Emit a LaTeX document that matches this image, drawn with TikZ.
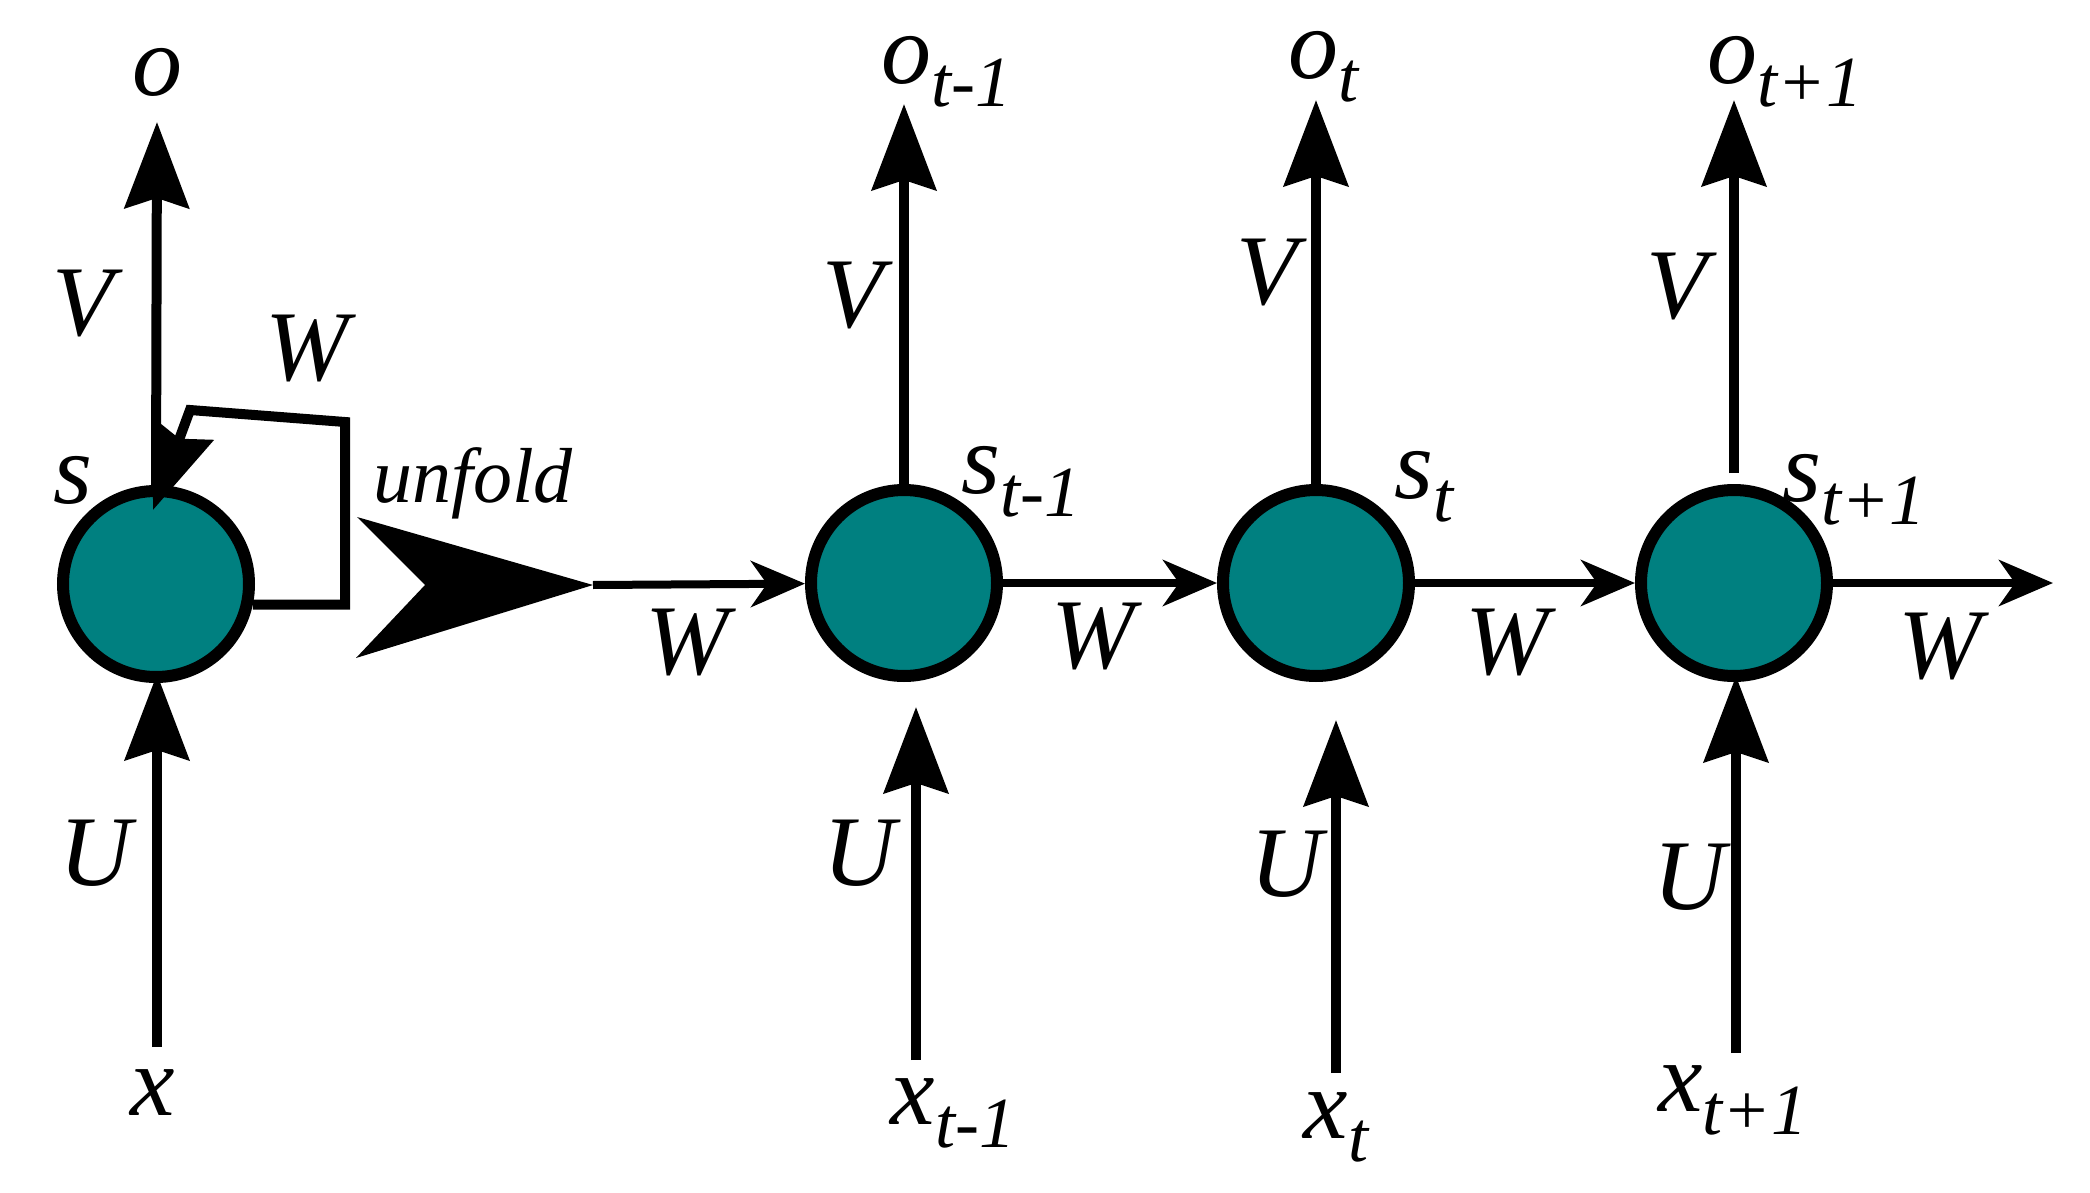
\documentclass[tikz,border=0pt]{standalone}
\usepackage{fontspec}
\setmainfont{Liberation Serif}
\usetikzlibrary{arrows.meta}
\definecolor{cellteal}{RGB}{0,128,128}
\newcommand\subt[1]{\raisebox{-0.23em}{\fontsize{36pt}{36pt}\selectfont #1}}
\begin{document}
\begin{tikzpicture}[x=0.5pt,y=-0.5pt,
  cell/.style={circle, draw=black, line width=6pt, fill=cellteal, minimum size=93pt, inner sep=0pt},
  lab/.style={font=\fontsize{50pt}{50pt}\selectfont\itshape, inner sep=0pt},
  smalllab/.style={font=\fontsize{39pt}{39pt}\selectfont\itshape, inner sep=0pt},
  bigtip/.style={-{Stealth[length=43pt,width=32pt,inset=5pt]}},
  upar/.style={line width=5pt, bigtip},
  harr/.style={line width=4pt, -{Stealth[length=27pt,width=23pt,inset=8pt]}},
  looparr/.style={line width=5pt, bigtip}]
\useasboundingbox (0,0) rectangle (2090,1193);

% cells
\node[cell] (c1) at (156,584) {};
\node[cell] (c2) at (904,583) {};
\node[cell] (c3) at (1316,583) {};
\node[cell] (c4) at (1734,583) {};

% coordinates
\coordinate (tp1) at (157,122);
\coordinate (tp2) at (904,104);
\coordinate (tp3) at (1316,100);
\coordinate (tp4) at (1734,100);
\coordinate (sb4) at (1734,473);
\coordinate (ub1) at (157,1047);
\coordinate (ut1) at (157,674);
\coordinate (ub2) at (916,1060);
\coordinate (ut2) at (916,707);
\coordinate (ub3) at (1336,1073);
\coordinate (ut3) at (1336,720);
\coordinate (ub4) at (1736,1053);
\coordinate (ut4) at (1736,676);
\coordinate (lp0) at (345,603);
\coordinate (lp1) at (345,422);
\coordinate (lp2) at (190,410);
\coordinate (lt) at (153,510);
\coordinate (ut) at (593,585);
\coordinate (wend) at (2053,583);

% up arrows (V)
\draw[upar] (c1.north) -- (tp1);
\draw[upar] (c2) -- (tp2);
\draw[upar] (c3) -- (tp3);
\draw[upar] (sb4) -- (tp4);

% input arrows (U)
\draw[upar] (ub1) -- (ut1);
\draw[upar] (ub2) -- (ut2);
\draw[upar] (ub3) -- (ut3);
\draw[upar] (ub4) -- (ut4);

% recurrent loop
\draw[looparr] (c1.-12) -- (c1.-12 -| lp0) -- (lp1) -- (lp2) -- (lt);

% unfold arrow
\fill (ut) -- (357,517) -- (425,585) -- (356,658) -- cycle;

% horizontal W arrows
\draw[harr] (ut) -- (c2);
\draw[harr] (c2) -- (c3);
\draw[harr] (c3) -- (c4);
\draw[harr] (c4) -- (wend);

% labels
\node[lab] (lo) at (157,72) {o};
\node[lab] (lv1) at (83,304) {V};
\node[lab] (lwl) at (307,349) {W};
\node[lab] (ls) at (73,480) {s};
\node[smalllab] (lunf) at (473,483) {unfold};
\node[lab] (lw1) at (687,643) {W};
\node[lab] (lu1) at (96,853) {U};
\node[lab] (lx) at (153,1093) {x};

\node[lab] (lo2) at (946,72) {o\subt{t-1}};
\node[lab] (lv2) at (853,296) {V};
\node[lab] (ls2) at (1021,482) {s\subt{t-1}};
\node[lab] (lu2) at (860,853) {U};
\node[lab] (lx2) at (953,1113) {x\subt{t-1}};
\node[lab] (lw2) at (1093,637) {W};

\node[lab] (lo3) at (1323,67) {o\subt{t}};
\node[lab] (lv3) at (1267,273) {V};
\node[lab] (ls3) at (1424,487) {s\subt{t}};
\node[lab] (lu3) at (1287,864) {U};
\node[lab] (lx3) at (1336,1127) {x\subt{t}};
\node[lab] (lw3) at (1507,643) {W};

\node[lab] (lo4) at (1785,72) {o\subt{t+1}};
\node[lab] (lv4) at (1677,287) {V};
\node[lab] (ls4) at (1854,490) {s\subt{t+1}};
\node[lab] (lu4) at (1690,877) {U};
\node[lab] (lx4) at (1733,1100) {x\subt{t+1}};
\node[lab] (lw4) at (1940,647) {W};
\end{tikzpicture}
\end{document}
